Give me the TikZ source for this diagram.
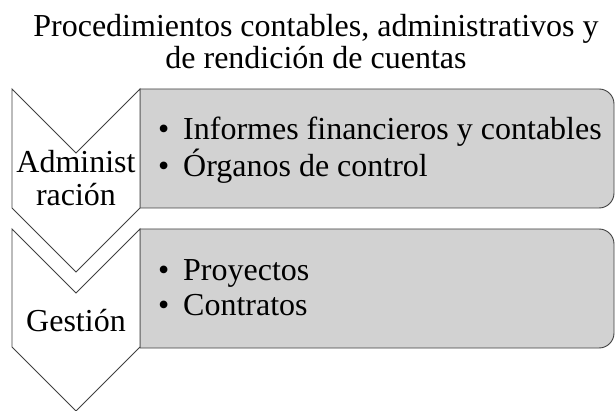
\documentclass[tikz,border=0pt]{standalone}
\usepackage{fontspec}
\setmainfont{Liberation Serif}
\definecolor{boxfill}{HTML}{D2D2D2}
\definecolor{edge}{HTML}{404040}
\begin{document}
\begin{tikzpicture}[x=1pt,y=-1pt,
  txt/.style={inner sep=0pt,anchor=base west,font=\fontsize{32}{36}\selectfont},
  ctxt/.style={inner sep=0pt,anchor=base,font=\fontsize{32}{36}\selectfont},
  chev/.style={draw=edge,fill=white,line width=0.9pt,line join=miter},
  gbox/.style={draw=edge,fill=boxfill,line width=0.9pt}]
\useasboundingbox (0,0) rectangle (615,411);
% title
\node[ctxt] (t1) at (316,37) {Procedimientos contables, administrativos y};
\node[ctxt] (t2) at (316,69) {de rendición de cuentas};
% boxes
\draw[gbox] (140,89) -- (599,89) arc(270:360:15) -- (614,193) arc(0:90:15) -- (140,208) -- cycle;
\draw[gbox] (140,229) -- (599,229) arc(270:360:15) -- (614,333) arc(0:90:15) -- (140,348) -- cycle;
% chevrons
\draw[chev] (12,89) -- (76,153) -- (140,89) -- (140,208) -- (76,272) -- (12,208) -- cycle;
\draw[chev] (12,229) -- (76,293) -- (140,229) -- (140,347) -- (76,411) -- (12,347) -- cycle;
% chevron labels
\node[ctxt] (c1a) at (76,173) {Administ};
\node[ctxt] (c1b) at (76,206) {ración};
\node[ctxt] (c2) at (76,331) {Gestión};
% bullets
\node[txt] (b1) at (158,140) {•};
\node[txt] (i1) at (183,140) {Informes financieros y contables};
\node[txt] (b2) at (158,177) {•};
\node[txt] (i2) at (183,177) {Órganos de control};
\node[txt] (b3) at (158,280) {•};
\node[txt] (i3) at (183,280) {Proyectos};
\node[txt] (b4) at (158,316) {•};
\node[txt] (i4) at (183,316) {Contratos};
\end{tikzpicture}
\end{document}
